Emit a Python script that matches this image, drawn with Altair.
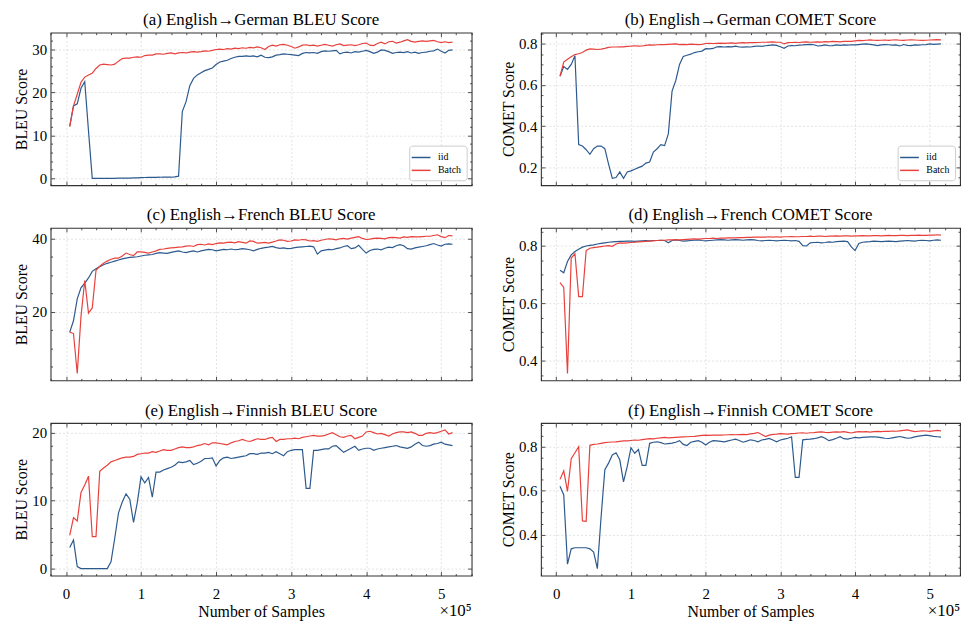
import math
import altair as alt
import pandas as pd

# ---------------- data ----------------
SAMPLES = [5000 * (i + 1) for i in range(103)]
RUNS = ["iid", "Batch"]
COLORS = ["#2D5A8E", "#E8413C"]

TITLES = [
    "(a) English→German BLEU Score",
    "(b) English→German COMET Score",
    "(c) English→French BLEU Score",
    "(d) English→French COMET Score",
    "(e) English→Finnish BLEU Score",
    "(f) English→Finnish COMET Score",
]

EN_DE_BLEU_IID = [
    12.1, 16.8, 17.3, 20.9, 22.4, 11.0, 0.0, 0.0, 0.0, 0.0,
    0.0, 0.0, 0.0, 0.02, 0.03, 0.05, 0.06, 0.08, 0.1, 0.15,
    0.18, 0.2, 0.22, 0.22, 0.25, 0.3, 0.28, 0.25, 0.35, 0.5,
    15.5, 17.8, 21.5, 23.2, 24.0, 24.5, 25.0, 25.3, 25.6, 26.4,
    27.0, 27.2, 27.4, 27.8, 28.1, 28.3, 28.3, 28.4, 28.3, 28.4,
    28.2, 28.6, 28.1, 28.0, 28.2, 28.6, 28.7, 28.9, 28.8, 28.7,
    28.6, 28.5, 29.0, 29.2, 29.1, 29.2, 29.0, 29.4, 29.6, 29.5,
    29.6, 29.7, 28.9, 29.2, 29.3, 29.1, 29.4, 29.3, 29.5, 29.7,
    29.4, 29.0, 29.3, 29.8, 29.7, 29.4, 29.0, 29.2, 29.3, 29.2,
    29.4, 29.1, 29.3, 29.0, 29.2, 29.3, 29.5, 29.6, 30.0, 29.5,
    29.1, 29.7, 29.8,
]
EN_DE_BLEU_BATCH = [
    12.0, 16.8, 19.5, 22.3, 23.5, 24.0, 24.4, 25.5, 26.3, 26.5,
    26.4, 26.3, 26.5, 27.2, 27.8, 27.9, 27.9, 28.1, 28.2, 28.1,
    28.5, 28.6, 28.6, 28.9, 28.9, 28.8, 29.0, 29.1, 28.9, 29.1,
    29.2, 29.1, 29.3, 29.4, 29.3, 29.4, 29.6, 29.5, 29.7, 29.9,
    30.0, 29.9, 30.1, 30.0, 30.2, 30.1, 30.3, 30.2, 30.4, 30.3,
    30.5, 30.3, 29.9, 30.6, 30.9, 30.7, 31.0, 31.1, 30.9, 30.6,
    30.2, 30.5, 30.9, 31.0, 30.8, 30.9, 30.7, 30.9, 31.1, 30.9,
    30.7, 31.0, 31.2, 30.8, 30.9, 31.0, 30.8, 31.0, 31.3, 31.4,
    30.9, 30.8, 31.3, 31.6, 31.2, 31.7, 31.8, 31.4, 31.6, 31.9,
    32.2, 31.8, 31.6, 31.8, 31.9, 31.8, 31.9, 32.0, 31.7, 31.5,
    31.7, 31.5, 31.6,
]
EN_DE_COMET_IID = [
    0.643, 0.690, 0.676, 0.700, 0.742, 0.310, 0.303, 0.285, 0.263, 0.290,
    0.303, 0.303, 0.290, 0.215, 0.146, 0.150, 0.177, 0.146, 0.177, 0.182,
    0.190, 0.198, 0.205, 0.220, 0.225, 0.274, 0.290, 0.310, 0.305, 0.362,
    0.570, 0.622, 0.700, 0.739, 0.745, 0.750, 0.758, 0.762, 0.765, 0.777,
    0.776, 0.778, 0.786, 0.787, 0.785, 0.787, 0.786, 0.789, 0.785, 0.784,
    0.786, 0.785, 0.788, 0.790, 0.788, 0.791, 0.793, 0.795, 0.793, 0.786,
    0.779, 0.790, 0.792, 0.791, 0.794, 0.795, 0.797, 0.798, 0.796, 0.790,
    0.792, 0.795, 0.791, 0.792, 0.795, 0.793, 0.795, 0.794, 0.796, 0.795,
    0.797, 0.799, 0.800, 0.798, 0.795, 0.792, 0.795, 0.797, 0.796, 0.794,
    0.795, 0.790, 0.797, 0.793, 0.792, 0.795, 0.794, 0.796, 0.797, 0.800,
    0.798, 0.799, 0.800,
]
EN_DE_COMET_BATCH = [
    0.643, 0.712, 0.725, 0.737, 0.748, 0.752, 0.758, 0.770, 0.776, 0.775,
    0.773, 0.775, 0.778, 0.783, 0.785, 0.785, 0.786, 0.786, 0.788, 0.789,
    0.791, 0.789, 0.790, 0.793, 0.795, 0.794, 0.796, 0.797, 0.797, 0.798,
    0.799, 0.800, 0.797, 0.798, 0.797, 0.799, 0.798, 0.797, 0.798, 0.802,
    0.803, 0.802, 0.803, 0.804, 0.803, 0.804, 0.805, 0.803, 0.805, 0.806,
    0.805, 0.806, 0.806, 0.807, 0.808, 0.808, 0.809, 0.810, 0.808, 0.808,
    0.800, 0.806, 0.807, 0.808, 0.807, 0.809, 0.810, 0.808, 0.809, 0.810,
    0.809, 0.811, 0.810, 0.812, 0.811, 0.810, 0.812, 0.813, 0.812, 0.815,
    0.817, 0.816, 0.818, 0.820, 0.818, 0.817, 0.818, 0.819, 0.817, 0.819,
    0.820, 0.818, 0.817, 0.819, 0.820, 0.819, 0.818, 0.817, 0.818, 0.819,
    0.820, 0.821, 0.820,
]
EN_FR_BLEU_IID = [
    14.4, 17.5, 23.5, 26.5, 27.8, 29.2, 31.0, 31.7, 32.3, 32.8,
    33.2, 33.5, 33.8, 34.1, 34.4, 34.6, 34.8, 34.9, 35.0, 35.2,
    35.4, 35.5, 35.6, 35.9, 36.1, 36.0, 35.9, 36.2, 36.4, 36.6,
    36.3, 36.1, 36.4, 36.6, 36.3, 36.6, 36.8, 37.0, 36.9, 36.6,
    36.8, 37.0, 36.9, 37.1, 36.9, 37.0, 37.2, 37.1, 36.9, 36.6,
    37.0, 37.3, 37.5, 37.6, 37.8, 37.5, 37.3, 37.4, 37.2, 37.3,
    37.5, 37.6, 37.7, 37.8, 37.9, 37.7, 35.7, 36.6, 36.8, 37.0,
    36.9, 37.2, 37.4, 37.8, 38.0, 37.2, 37.4, 38.1, 37.0, 36.0,
    36.7, 37.0, 37.1, 36.9, 37.3, 37.6, 37.5, 38.0, 38.3, 38.0,
    37.2, 37.1, 37.4, 37.6, 37.8, 38.0, 38.3, 38.6, 38.2, 37.9,
    38.4, 38.5, 38.4,
]
EN_FR_BLEU_BATCH = [
    14.4, 14.0, 3.1, 18.7, 28.5, 19.6, 21.0, 31.3, 32.4, 33.2,
    33.8, 34.3, 34.6, 34.6, 35.2, 36.0, 35.6, 35.3, 36.3, 36.3,
    36.2, 36.0, 36.3, 36.6, 37.0, 37.1, 37.3, 37.4, 37.5, 37.6,
    37.7, 37.9, 38.0, 37.8, 38.3, 38.4, 38.2, 38.5, 38.3, 38.6,
    38.8, 38.7, 38.9, 39.0, 38.8, 39.1, 38.9, 38.7, 39.3, 39.2,
    38.7, 38.8, 38.9, 38.7, 39.0, 39.3, 39.6, 39.5, 39.2, 39.3,
    39.6, 39.5, 39.7, 39.6, 39.3, 39.4, 39.2, 39.5, 39.7, 39.9,
    39.8, 39.6, 39.9, 40.0, 39.8, 40.1, 40.3, 40.5, 40.0, 39.7,
    39.8, 40.0, 40.1, 40.0, 39.9, 40.2, 40.3, 40.2, 40.1, 40.4,
    40.3, 40.5, 40.4, 40.4, 40.5, 40.6, 40.6, 40.8, 41.0, 40.5,
    40.2, 40.8, 40.7,
]
EN_FR_COMET_IID = [
    0.715, 0.706, 0.745, 0.768, 0.780, 0.788, 0.795, 0.799, 0.801, 0.803,
    0.806, 0.808, 0.810, 0.812, 0.813, 0.814, 0.815, 0.815, 0.816, 0.816,
    0.815, 0.816, 0.817, 0.818, 0.817, 0.818, 0.818, 0.819, 0.818, 0.810,
    0.818, 0.820, 0.818, 0.816, 0.817, 0.818, 0.819, 0.820, 0.818, 0.817,
    0.818, 0.819, 0.820, 0.821, 0.820, 0.819, 0.820, 0.821, 0.820, 0.819,
    0.820, 0.821, 0.820, 0.818, 0.817, 0.818, 0.819, 0.818, 0.817, 0.818,
    0.819, 0.818, 0.817, 0.818, 0.815, 0.800, 0.799, 0.810, 0.811, 0.812,
    0.810, 0.811, 0.813, 0.812, 0.814, 0.815, 0.816, 0.814, 0.796, 0.783,
    0.808, 0.812, 0.813, 0.814, 0.816, 0.815, 0.814, 0.815, 0.816, 0.815,
    0.814, 0.816, 0.817, 0.818, 0.817, 0.816, 0.818, 0.819, 0.818, 0.817,
    0.819, 0.820, 0.819,
]
EN_FR_COMET_BATCH = [
    0.672, 0.655, 0.356, 0.757, 0.772, 0.623, 0.623, 0.783, 0.791, 0.793,
    0.795, 0.797, 0.799, 0.800, 0.798, 0.806, 0.810, 0.809, 0.810, 0.811,
    0.812, 0.813, 0.814, 0.815, 0.816, 0.817, 0.818, 0.819, 0.819, 0.820,
    0.820, 0.821, 0.820, 0.821, 0.822, 0.823, 0.824, 0.823, 0.824, 0.825,
    0.825, 0.826, 0.825, 0.826, 0.826, 0.827, 0.827, 0.827, 0.828, 0.828,
    0.829, 0.829, 0.830, 0.830, 0.830, 0.830, 0.831, 0.830, 0.831, 0.830,
    0.831, 0.831, 0.832, 0.831, 0.831, 0.832, 0.832, 0.833, 0.832, 0.833,
    0.833, 0.832, 0.833, 0.833, 0.834, 0.833, 0.834, 0.834, 0.833, 0.834,
    0.834, 0.835, 0.834, 0.834, 0.835, 0.835, 0.834, 0.835, 0.836, 0.835,
    0.835, 0.836, 0.836, 0.835, 0.836, 0.836, 0.837, 0.836, 0.836, 0.837,
    0.837, 0.838, 0.837,
]
EN_FI_BLEU_IID = [
    3.1, 4.2, 0.3, 0.0, 0.0, 0.0, 0.0, 0.0, 0.0, 0.0,
    0.0, 1.0, 4.5, 8.2, 9.8, 11.0, 10.2, 6.8, 9.7, 13.5,
    12.6, 13.4, 10.5, 14.2, 14.2, 14.5, 14.7, 14.9, 15.2, 15.7,
    15.6, 15.7, 15.9, 15.3, 15.5, 15.8, 16.2, 16.2, 16.3, 15.1,
    15.9, 16.3, 16.4, 16.2, 16.3, 16.4, 16.5, 16.6, 16.9, 16.9,
    16.8, 17.0, 17.0, 17.1, 16.9, 17.2, 16.9, 16.6, 17.2, 17.4,
    17.5, 17.5, 17.5, 11.8, 11.8, 17.4, 17.4, 17.5, 17.6, 17.6,
    18.0, 18.1, 17.6, 17.1, 17.4, 17.7, 18.0, 17.4, 17.6, 17.7,
    17.7, 17.4, 17.6, 17.7, 17.8, 17.9, 18.0, 18.1, 17.9, 17.8,
    17.7, 17.9, 18.3, 18.6, 18.1, 18.0, 18.1, 18.3, 18.4, 18.6,
    18.3, 18.2, 18.1,
]
EN_FI_BLEU_BATCH = [
    4.9, 7.5, 7.0, 11.2, 12.3, 13.6, 4.7, 4.7, 14.3, 14.8,
    15.2, 15.7, 15.9, 16.1, 16.3, 16.4, 16.4, 16.5, 16.8, 16.9,
    17.0, 17.0, 17.2, 17.1, 17.3, 17.5, 17.4, 17.4, 17.6, 17.8,
    17.9, 17.8, 17.8, 17.9, 18.1, 18.2, 18.4, 18.2, 18.5, 18.5,
    18.4, 18.3, 18.2, 18.5, 18.7, 18.8, 19.0, 18.8, 18.7, 18.9,
    19.1, 19.0, 19.0, 19.2, 19.3, 18.7, 19.0, 19.0, 19.1, 19.1,
    19.2, 19.1, 19.3, 19.4, 19.5, 19.6, 19.5, 19.5, 19.6, 19.8,
    20.0, 19.7, 19.4, 19.3, 19.5, 19.6, 19.1, 19.3, 19.5, 20.1,
    20.2, 20.0, 19.8, 19.9, 19.7, 19.5, 19.8, 20.0, 20.1, 20.1,
    20.0, 20.1, 19.9, 19.6, 19.6, 19.9, 20.0, 19.9, 20.0, 20.2,
    20.4, 19.8, 20.0,
]
EN_FI_COMET_IID = [
    0.620, 0.580, 0.265, 0.335, 0.340, 0.340, 0.340, 0.340, 0.335, 0.320,
    0.245, 0.480, 0.695, 0.725, 0.762, 0.772, 0.740, 0.640, 0.710, 0.795,
    0.770, 0.787, 0.715, 0.715, 0.815, 0.820, 0.822, 0.818, 0.812, 0.814,
    0.816, 0.820, 0.827, 0.810, 0.805, 0.820, 0.824, 0.827, 0.820, 0.807,
    0.820, 0.827, 0.826, 0.824, 0.822, 0.826, 0.830, 0.834, 0.828, 0.820,
    0.825, 0.831, 0.828, 0.822, 0.830, 0.833, 0.837, 0.830, 0.822, 0.830,
    0.834, 0.838, 0.845, 0.660, 0.660, 0.831, 0.833, 0.834, 0.836, 0.840,
    0.845, 0.838, 0.827, 0.832, 0.838, 0.845, 0.836, 0.834, 0.838, 0.842,
    0.840, 0.842, 0.843, 0.844, 0.845, 0.843, 0.841, 0.838, 0.837, 0.840,
    0.843, 0.846, 0.842, 0.838, 0.840, 0.844, 0.848, 0.850, 0.852, 0.850,
    0.847, 0.845, 0.843,
]
EN_FI_COMET_BATCH = [
    0.651, 0.690, 0.596, 0.745, 0.772, 0.800, 0.462, 0.460, 0.806, 0.810,
    0.812, 0.815, 0.818, 0.820, 0.821, 0.822, 0.824, 0.826, 0.826, 0.828,
    0.830, 0.829, 0.832, 0.834, 0.836, 0.835, 0.838, 0.840, 0.842, 0.840,
    0.841, 0.842, 0.843, 0.844, 0.845, 0.846, 0.847, 0.849, 0.851, 0.852,
    0.851, 0.852, 0.853, 0.852, 0.853, 0.854, 0.855, 0.854, 0.855, 0.856,
    0.855, 0.858, 0.860, 0.864, 0.855, 0.846, 0.852, 0.856, 0.857, 0.859,
    0.858, 0.857, 0.859, 0.860, 0.862, 0.863, 0.861, 0.863, 0.864, 0.866,
    0.867, 0.865, 0.864, 0.866, 0.867, 0.866, 0.868, 0.865, 0.862, 0.866,
    0.868, 0.867, 0.868, 0.866, 0.868, 0.869, 0.868, 0.870, 0.869, 0.871,
    0.870, 0.872, 0.874, 0.876, 0.872, 0.868, 0.870, 0.872, 0.871, 0.869,
    0.872, 0.874, 0.872,
]

# ---------------- styling ----------------
FONT = "Liberation Serif"
TITLE_FONT = "Liberation Serif, DejaVu Serif"
H = 154
XDOM = [-20500, 540500]
XVALS = list(range(-20000, 540001, 20000))
XMAJ = "datum.value % 100000 === 0"


def maj_test(step):
    return f"abs(datum.value / {step} - round(datum.value / {step})) < 1e-6"


def panel(title, ytitle, iid, batch, ymajor, yminor, fmt, width, bottom, legend):
    vals = iid + batch
    lo, hi = min(vals), max(vals)
    pad = 0.05 * (hi - lo)
    ydom = [lo - pad, hi + pad]
    k0 = math.ceil(ydom[0] / yminor - 1e-9)
    k1 = math.floor(ydom[1] / yminor + 1e-9)
    yvals = [round(k * yminor, 6) for k in range(k0, k1 + 1)]
    ymaj = maj_test(ymajor)

    n = min(len(iid), len(batch), len(SAMPLES))
    df = pd.DataFrame({
        "samples": SAMPLES[:n] + SAMPLES[:n],
        "score": iid[:n] + batch[:n],
        "run": ["iid"] * n + ["Batch"] * n,
    })
    xs = alt.Scale(domain=XDOM, nice=False, zero=False)
    ys = alt.Scale(domain=ydom, nice=False, zero=False)

    tick_common = dict(tickColor="#222222", tickWidth=0.8, domain=False)
    grid_common = dict(grid=True, gridColor="#cfcfcf", gridDash=[2, 2], gridWidth=0.6)
    xaxis_kw = dict(
        values=XVALS, orient="bottom",
        tickSize={"expr": f"{XMAJ} ? -4 : -2"},
        gridOpacity={"condition": {"test": XMAJ, "value": 1}, "value": 0},
        labels=bottom, labelOverlap=False, labelFlush=False,
        **grid_common, **tick_common,
    )
    if bottom:
        xaxis_kw.update(
            labelExpr=f"{XMAJ} ? format(datum.value / 100000, 'd') : ''",
            labelFont=FONT, labelColor="black", labelPadding=15,
            labelFontSize={"condition": {"test": XMAJ, "value": 15}, "value": 0},
            title="Number of Samples", titleFont=FONT, titleFontSize=16,
            titleFontWeight="normal", titleColor="black", titlePadding=2,
        )
    else:
        xaxis_kw.update(title=None, minExtent=0, maxExtent=0)
    yaxis = alt.Axis(
        values=yvals, orient="left",
        tickSize={"expr": f"{ymaj} ? -4 : -2"},
        gridOpacity={"condition": {"test": ymaj, "value": 1}, "value": 0},
        labelExpr=f"{ymaj} ? format(datum.value, '{fmt}') : ''",
        labelFont=FONT, labelColor="black", labelPadding=8,
        labelFontSize={"condition": {"test": ymaj, "value": 15}, "value": 0},
        labelOverlap=False, labelFlush=False,
        title=ytitle, titleFont=FONT, titleFontSize=16, titleFontWeight="normal",
        titleColor="black", titlePadding=2,
        **grid_common, **tick_common,
    )
    if legend:
        leg = alt.Legend(
            orient="bottom-right", title=None, offset=5, fillColor="white",
            strokeColor="#cccccc", padding=5, cornerRadius=3,
            labelFont=FONT, labelFontSize=10, labelColor="black",
            symbolType="M-1.6,0L1.6,0", symbolSize=140, symbolStrokeWidth=1.5,
            rowPadding=1, labelOffset=10,
        )
    else:
        leg = None

    lines = alt.Chart(df).mark_line(strokeWidth=1.2).encode(
        x=alt.X("samples:Q", scale=xs, axis=alt.Axis(**xaxis_kw)),
        y=alt.Y("score:Q", scale=ys, axis=yaxis),
        color=alt.Color("run:N", scale=alt.Scale(domain=RUNS, range=COLORS),
                        legend=leg, sort=RUNS),
    )
    mirror = alt.Chart(df).mark_line(opacity=0).encode(
        x=alt.X("samples:Q", scale=xs, axis=alt.Axis(
            values=XVALS, orient="top", tickSize={"expr": f"{XMAJ} ? -4 : -2"},
            labels=False, grid=False, title=None, minExtent=0, maxExtent=0,
            **tick_common)),
        y=alt.Y("score:Q", scale=ys, axis=alt.Axis(
            values=yvals, orient="right", tickSize={"expr": f"{ymaj} ? -4 : -2"},
            labels=False, grid=False, title=None, minExtent=0, maxExtent=0,
            **tick_common)),
        detail="run:N",
    )
    layers = [lines, mirror]
    if bottom:
        note = alt.Chart(pd.DataFrame({"t": ["×10⁵"]})).mark_text(
            align="right", baseline="alphabetic", font=FONT, fontSize=17, color="black"
        ).encode(x=alt.value(width), y=alt.value(H + 41), text="t:N")
        layers.append(note)
    return alt.layer(*layers).properties(
        width=width, height=H,
        title=alt.TitleParams(title, font=TITLE_FONT, fontSize=17, fontWeight="normal",
                              color="black", offset=3, anchor="middle"),
    )


WL, WR = 425, 423
panels = [
    panel(TITLES[0], "BLEU Score", EN_DE_BLEU_IID, EN_DE_BLEU_BATCH, 10, 2, "d", WL, False, True),
    panel(TITLES[1], "COMET Score", EN_DE_COMET_IID, EN_DE_COMET_BATCH, 0.2, 0.05, ".1f", WR, False, True),
    panel(TITLES[2], "BLEU Score", EN_FR_BLEU_IID, EN_FR_BLEU_BATCH, 20, 5, "d", WL, False, False),
    panel(TITLES[3], "COMET Score", EN_FR_COMET_IID, EN_FR_COMET_BATCH, 0.2, 0.05, ".1f", WR, False, False),
    panel(TITLES[4], "BLEU Score", EN_FI_BLEU_IID, EN_FI_BLEU_BATCH, 10, 2, "d", WL, True, False),
    panel(TITLES[5], "COMET Score", EN_FI_COMET_IID, EN_FI_COMET_BATCH, 0.2, 0.05, ".1f", WR, True, False),
]

chart = (
    alt.concat(*panels, columns=2, bounds="flush", spacing={"row": 43, "column": 70})
    .resolve_scale(color="independent")
    .resolve_legend(color="independent")
    .properties(padding={"left": 5, "top": 0, "right": 0, "bottom": 0})
    .configure(font=FONT)
    .configure_view(stroke="#333333", strokeWidth=1.1)
)

chart.save("out.html", embed_options={"renderer": "svg", "actions": False})
